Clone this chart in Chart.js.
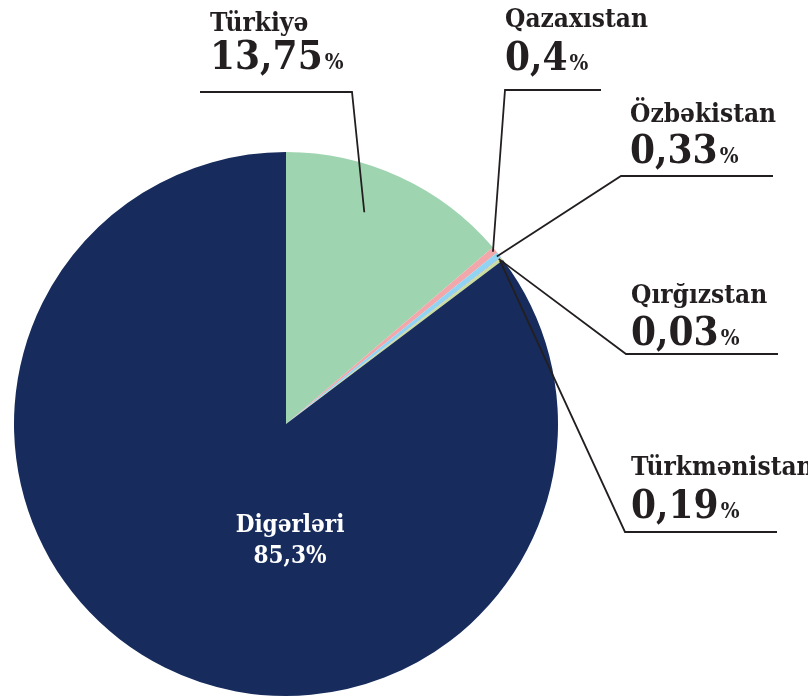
<!DOCTYPE html>
<html lang="az">
<head>
    <meta charset="UTF-8">
    <title>Pay bölgüsü</title>
    <script src="https://cdn.jsdelivr.net/npm/chart.js"></script>
    <style>
        html, body { margin: 0; padding: 0; background: #fff; }
        canvas { display: block; }
    </style>
</head>
<body>
    <canvas id="pieChart" width="808" height="697"></canvas>

    <script>
        const countries = ['Türkiyə', 'Qazaxıstan', 'Özbəkistan', 'Qırğızstan', 'Türkmənistan', 'Digərləri'];
        const shares = [13.75, 0.4, 0.33, 0.03, 0.19, 85.3];
        const shareLabels = ['13,75', '0,4', '0,33', '0,03', '0,19', '85,3'];
        const sliceColors = ['#9fd4b0', '#f2a7ab', '#8fd4f2', '#a29ed0', '#c9de9c', '#172c5c'];

        const serif = '"DejaVu Serif Condensed", "DejaVu Serif", serif';

        // callouts: name position, gap to the number, shelf line [x from, x to (knee), y], where the leader lands
        const callouts = [
            { i: 0, x: 210, y: 31, gap: 38, shelf: [200, 352, 92], aFrac: 0.41, rFrac: 0.83 },
            { i: 1, x: 505, y: 27, gap: 43, shelf: [601, 505, 90], aFrac: 0.5, rFrac: 0.99 },
            { i: 2, x: 630, y: 122, gap: 41, shelf: [773, 621, 176], aFrac: 0.5, rFrac: 0.99 },
            { i: 3, x: 631, y: 303, gap: 42, shelf: [778, 626, 354], aFrac: 0.5, rFrac: 0.99 },
            { i: 4, x: 631, y: 475, gap: 43, shelf: [777, 625, 532], aFrac: 0.5, rFrac: 0.99 }
        ];

        const labelPlugin = {
            id: 'calloutLabels',
            afterDraw(chart) {
                const ctx = chart.ctx;
                const arcs = chart.getDatasetMeta(0).data;
                ctx.save();
                ctx.textBaseline = 'alphabetic';
                ctx.textAlign = 'left';

                callouts.forEach(c => {
                    const arc = arcs[c.i];
                    const a = arc.startAngle + (arc.endAngle - arc.startAngle) * c.aFrac;
                    const r = arc.outerRadius * c.rFrac;
                    const px = arc.x + Math.cos(a) * r;
                    const py = arc.y + Math.sin(a) * r;

                    ctx.strokeStyle = '#231f20';
                    ctx.lineWidth = 1.8;
                    ctx.beginPath();
                    ctx.moveTo(c.shelf[0], c.shelf[2]);
                    ctx.lineTo(c.shelf[1], c.shelf[2]);
                    ctx.lineTo(px, py);
                    ctx.stroke();

                    ctx.fillStyle = '#231f20';
                    ctx.font = 'bold 26px ' + serif;
                    ctx.fillText(countries[c.i], c.x, c.y);
                    ctx.font = 'bold 40px ' + serif;
                    const num = shareLabels[c.i];
                    ctx.fillText(num, c.x, c.y + c.gap);
                    const w = ctx.measureText(num).width;
                    ctx.font = 'bold 22px ' + serif;
                    ctx.fillText('%', c.x + w + 2, c.y + c.gap);
                });

                // label inside the big slice
                ctx.fillStyle = '#ffffff';
                ctx.textAlign = 'center';
                ctx.font = 'bold 24px ' + serif;
                ctx.fillText(countries[5], 290, 532);
                ctx.fillText(shareLabels[5] + '%', 290, 563);
                ctx.restore();
            }
        };

        new Chart(document.getElementById('pieChart'), {
            type: 'pie',
            data: {
                labels: countries,
                datasets: [{
                    data: shares,
                    backgroundColor: sliceColors,
                    borderWidth: 0
                }]
            },
            options: {
                responsive: false,
                animation: false,
                layout: { padding: { left: 14, top: 152, right: 250, bottom: 1 } },
                plugins: {
                    legend: { display: false },
                    tooltip: { enabled: false }
                }
            },
            plugins: [labelPlugin]
        });
    </script>
</body>
</html>
